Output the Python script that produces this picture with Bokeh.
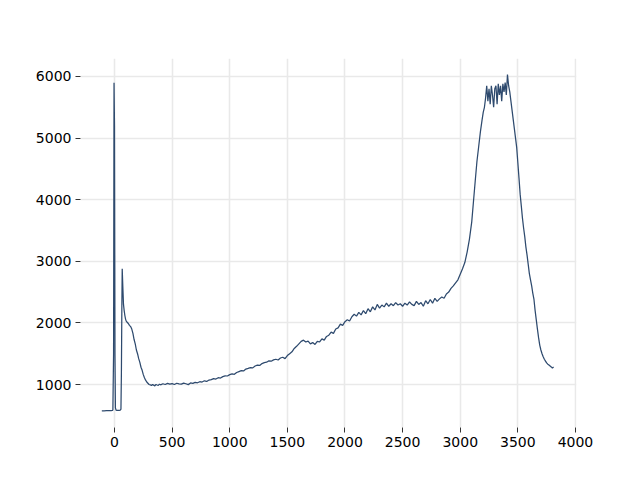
from bokeh.plotting import figure
from bokeh.models import Range1d, SingleIntervalTicker
from bokeh.embed import file_html
from bokeh.resources import INLINE

x_vals = [-110, -90, -70, -50, -30, -18, -14, -8, -4, 0, 4, 8, 14, 20, 30, 40, 50, 56, 60, 64, 67, 72, 78, 84, 90, 96, 102, 110,
          120, 130, 140, 150, 160, 170, 180, 190, 200, 210, 220, 230, 240, 250, 260, 270, 280, 290, 300, 310, 320, 330, 340, 350,
          360, 370, 380, 390, 400, 420, 440, 460, 480, 500, 520, 540, 560, 580, 600, 620, 640, 660, 680, 700, 720, 740, 760, 780,
          800, 820, 840, 860, 880, 900, 920, 940, 960, 980, 1000, 1020, 1040, 1060, 1080, 1100, 1120, 1140, 1160, 1180, 1200,
          1220, 1240, 1260, 1280, 1300, 1320, 1340, 1360, 1380, 1400, 1420, 1440, 1460, 1480, 1500, 1520, 1540, 1560, 1580, 1600,
          1620, 1640, 1660, 1680, 1700, 1720, 1740, 1760, 1780, 1800, 1820, 1840, 1860, 1880, 1900, 1920, 1940, 1960, 1980, 2000,
          2020, 2040, 2060, 2080, 2100, 2120, 2140, 2160, 2180, 2200, 2220, 2240, 2260, 2280, 2300, 2320, 2340, 2360, 2380, 2400,
          2420, 2440, 2460, 2480, 2500, 2520, 2540, 2560, 2580, 2600, 2620, 2640, 2660, 2680, 2700, 2720, 2740, 2760, 2780, 2800,
          2820, 2840, 2860, 2880, 2900, 2920, 2940, 2960, 2980, 3000, 3020, 3040, 3060, 3080, 3100, 3115, 3130, 3145, 3160, 3175,
          3190, 3200, 3210, 3220, 3230, 3240, 3250, 3260, 3270, 3280, 3290, 3300, 3310, 3320, 3330, 3340, 3350, 3360, 3370, 3380,
          3390, 3400, 3410, 3420, 3430, 3440, 3450, 3460, 3470, 3480, 3490, 3500, 3510, 3520, 3530, 3540, 3550, 3560, 3570, 3580,
          3590, 3600, 3610, 3620, 3630, 3640, 3650, 3660, 3670, 3680, 3690, 3700, 3710, 3720, 3730, 3740, 3750, 3760, 3770, 3780,
          3790, 3800, 3810]

y_vals = [572, 573, 574, 574, 576, 580, 585, 1500, 5898, 5200, 1500, 620, 582, 580, 580, 580, 582, 600, 1200, 2300, 2878, 2600, 2300, 2200, 2120, 2060, 2030, 2010,
          1990, 1960, 1940, 1900, 1830, 1730, 1660, 1560, 1500, 1420, 1360, 1280, 1230, 1160, 1110, 1070, 1040, 1020, 1000, 995, 985, 1000, 990, 978,
          1000, 992, 985, 1005, 995, 1012, 1000, 1018, 1005, 1015, 1000, 1020, 1010, 1005, 1022, 1012, 998, 1025, 1018, 1035, 1028, 1045, 1040, 1060,
          1050, 1072, 1080, 1095, 1088, 1110, 1105, 1128, 1140, 1138, 1160, 1172, 1165, 1195, 1210, 1225, 1220, 1250, 1262, 1275, 1270,
          1300, 1315, 1310, 1340, 1355, 1362, 1385, 1378, 1400, 1410, 1398, 1430, 1442, 1420, 1470, 1500, 1530, 1585, 1620, 1660,
          1700, 1720, 1690, 1705, 1660, 1680, 1650, 1700, 1690, 1740, 1720, 1780, 1800, 1850, 1830, 1900, 1920, 1980, 1960, 2020,
          2050, 2030, 2100, 2140, 2110, 2170, 2130, 2200, 2150, 2230, 2180, 2260, 2210, 2300, 2240, 2290, 2260, 2320, 2270, 2310,
          2280, 2330, 2290, 2310, 2270, 2320, 2290, 2340, 2300, 2280, 2350, 2300, 2330, 2270, 2360, 2310, 2380, 2320, 2400, 2350,
          2390, 2420, 2400, 2470, 2500, 2560, 2600, 2650, 2700, 2790, 2880, 2980, 3150, 3360, 3640, 3970, 4300, 4620, 4860, 5100,
          5300, 5420, 5500, 5650, 5850, 5600, 5800, 5550, 5850, 5700, 5500, 5800, 5850, 5550, 5880, 5700, 5850, 5600, 5880, 5750,
          5900, 5700, 6030, 5850, 5750, 5600, 5450, 5300, 5150, 5000, 4850, 4600, 4350, 4090, 3900, 3700, 3540, 3400, 3230, 3100,
          2950, 2800, 2700, 2600, 2480, 2380, 2200, 2050, 1900, 1760, 1640, 1560, 1500, 1450, 1410, 1380, 1350, 1330, 1315, 1300,
          1285, 1265, 1285]

p = figure(width=640, height=480, output_backend="svg", toolbar_location=None,
           x_range=Range1d(-295, 4009), y_range=Range1d(302, 6292),
           min_border_left=80, min_border_right=64, min_border_top=58, min_border_bottom=53)

p.line(x_vals, y_vals, line_color="#2e4a6e", line_width=1.25)

p.outline_line_color = None
p.xaxis.ticker = SingleIntervalTicker(interval=500)
p.yaxis.ticker = SingleIntervalTicker(interval=1000)
for ax in (p.xaxis, p.yaxis):
    ax.axis_line_color = None
    ax.minor_tick_line_color = None
    ax.major_tick_in = 0
    ax.major_tick_out = 5
    ax.major_tick_line_color = "#333333"
    ax.major_label_text_font = "DejaVu Sans"
    ax.major_label_text_font_size = "14px"
    ax.major_label_text_color = "black"
    ax.major_label_standoff = 4
p.xgrid.grid_line_color = "#e9e9e9"
p.ygrid.grid_line_color = "#e9e9e9"
p.xgrid.grid_line_width = 1.6
p.ygrid.grid_line_width = 1.6

open("out.html", "w").write(file_html(p, INLINE))
